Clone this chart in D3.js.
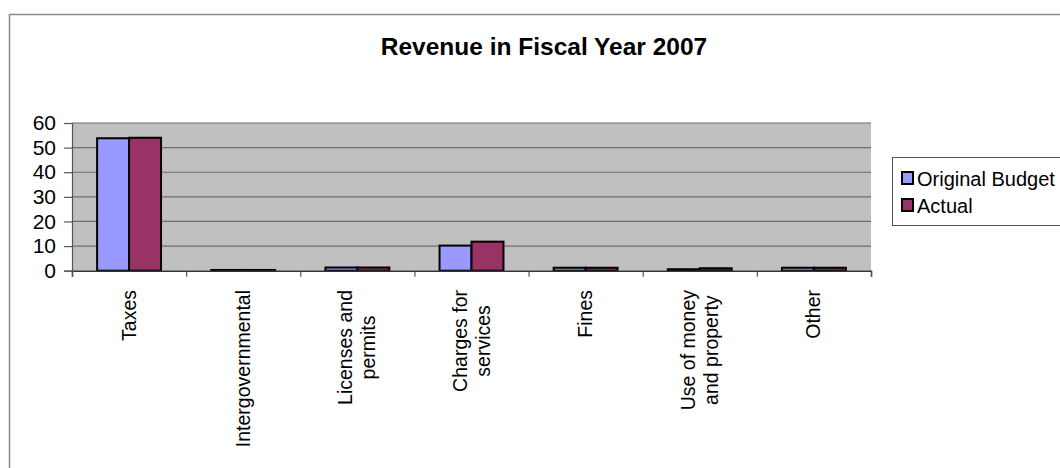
<!DOCTYPE html>
<html><head><meta charset="utf-8">
<script src="https://cdn.jsdelivr.net/npm/d3@7"></script>
<style>body{margin:0;background:#fff}svg{display:block;font-family:Arial,"Liberation Sans",sans-serif}</style>
</head><body><svg id="c" width="1060" height="468"></svg>
<script>
const categories = [["Taxes"],["Intergovernmental"],["Licenses and","permits"],["Charges for","services"],["Fines"],["Use of money","and property"],["Other"]];
const seriesNames = ["Original Budget","Actual"];
const budget = [53.8, 0.3, 1.3, 10.2, 1.2, 0.6, 1.2];
const actual = [54.0, 0.3, 1.3, 11.8, 1.2, 1.0, 1.2];
const yTicks = [0,10,20,30,40,50,60];
const colors = ["#9999ff","#993366"];
const title = "Revenue in Fiscal Year 2007";

const svg = d3.select("#c");
svg.append("rect").attr("x",9.5).attr("y",14.5).attr("width",1070).attr("height",480)
  .attr("fill","#fff").attr("stroke","#8a8a8a").attr("stroke-width",1.5);

svg.append("text").attr("x",544).attr("y",55).attr("text-anchor","middle")
  .attr("font-size",24.5).attr("font-weight","bold").text(title);

const L=72, R=871, T=123, B=270.7;
const keys = categories.map((c,i)=>i);
const x0 = d3.scaleBand().domain(keys).range([L,R]).padding(0);
const y = d3.scaleLinear().domain([0,60]).range([B,T]);

svg.append("rect").attr("x",L).attr("y",T).attr("width",R-L).attr("height",B-T).attr("fill","#c0c0c0");
svg.append("g").selectAll("line").data(yTicks.slice(1)).join("line")
  .attr("x1",L).attr("x2",R).attr("y1",d=>y(d)).attr("y2",d=>y(d))
  .attr("stroke","#6e6e6e").attr("stroke-width",1.2);

const bw = x0.bandwidth()*0.28;
const off = (x0.bandwidth()-2*bw)/2;
const data = keys.map(i=>[budget[i],actual[i]]);
const g = svg.append("g");
keys.forEach(i=>{
  data[i].forEach((v,s)=>{
    g.append("rect").attr("x",x0(i)+off+s*bw).attr("y",y(v)).attr("width",bw).attr("height",B-y(v))
      .attr("fill",colors[s]).attr("stroke","#000").attr("stroke-width",2);
  });
});

const ya = d3.axisLeft(y).tickValues(yTicks).tickSize(8).tickPadding(8);
const yg = svg.append("g").attr("transform",`translate(${L},0)`).call(ya);
yg.select(".domain").attr("stroke","#555").attr("stroke-width",1.2);
yg.selectAll(".tick line").attr("stroke","#555").attr("stroke-width",1.2);
yg.selectAll("text").attr("font-size",21).attr("font-family","Arial,'Liberation Sans',sans-serif").attr("fill","#000");

const xa = d3.axisBottom(d3.scaleLinear().domain([0,7]).range([L,R])).tickValues(d3.range(8)).tickSize(6).tickFormat("");
const xg = svg.append("g").attr("transform",`translate(0,${B})`).call(xa);
xg.select(".domain").attr("stroke","#333").attr("stroke-width",1.5);
xg.selectAll(".tick line").attr("stroke","#555").attr("stroke-width",1.2);

keys.forEach(i=>{
  const lines = categories[i];
  const cx = x0(i)+x0.bandwidth()/2;
  const grp = svg.append("g");
  const tx = lines.map((t,k)=>grp.append("text").attr("font-size",19.5).attr("text-anchor","middle").text(t));
  const maxW = d3.max(tx, t=>t.node().getComputedTextLength());
  const n = lines.length;
  tx.forEach((t,k)=>{
    const lx = cx + (k-(n-1)/2)*23 + 6.5;
    const ly = 290 + maxW/2;
    t.attr("transform",`translate(${lx},${ly}) rotate(-90)`);
  });
});

const lg = svg.append("g");
lg.append("rect").attr("x",892.5).attr("y",157.5).attr("width",200).attr("height",68)
  .attr("fill","#fff").attr("stroke","#555").attr("stroke-width",1);
seriesNames.forEach((n,s)=>{
  lg.append("rect").attr("x",902).attr("y",172+s*27).attr("width",11).attr("height",12)
    .attr("fill",colors[s]).attr("stroke","#000").attr("stroke-width",2);
  lg.append("text").attr("x",917).attr("y",185.5+s*27).attr("font-size",20).text(n);
});
</script></body></html>
